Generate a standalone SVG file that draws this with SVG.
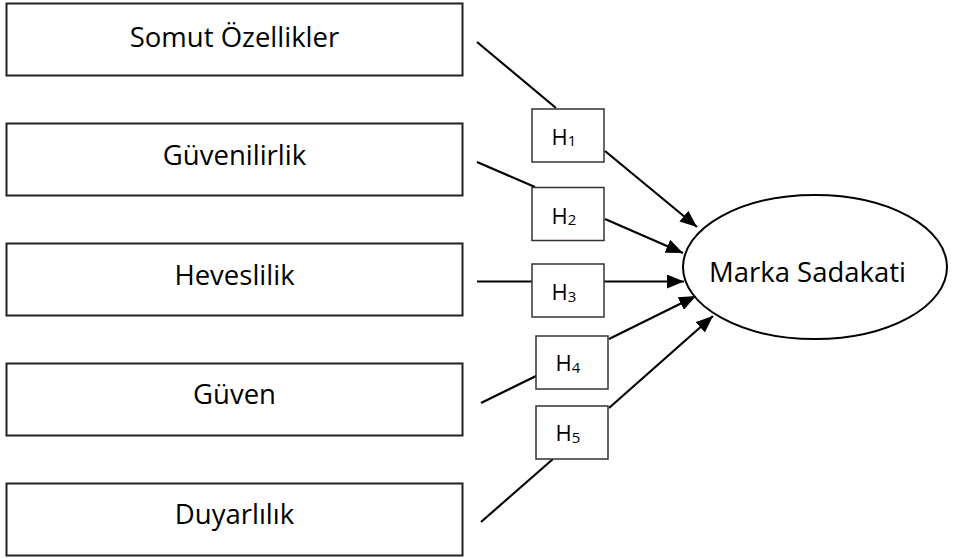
<svg xmlns="http://www.w3.org/2000/svg" width="955" height="558" viewBox="0 0 955 558">
<defs>
<style>
.box{fill:#fff;stroke:#222;stroke-width:2}
.hbox{fill:#fff;stroke:#333;stroke-width:1.5}
.lbl{font-family:"Open Sans","Liberation Sans",sans-serif;font-size:27.5px;fill:#000;text-anchor:middle}
.h{font-family:"Open Sans","Liberation Sans",sans-serif;font-size:22px;fill:#000}
.sub{font-size:15px}
.ln{stroke:#000;stroke-width:2.2;fill:none}
.arr{stroke:#000;stroke-width:2.2;fill:none;marker-end:url(#ah)}
</style>
<marker id="ah" markerUnits="userSpaceOnUse" markerWidth="17" markerHeight="14" refX="17" refY="7" orient="auto">
<path d="M0,0 L17,7 L0,14 z" fill="#000"/>
</marker>
</defs>
<rect width="955" height="558" fill="#fff"/>
<g id="connectors">
<line class="ln" x1="477" y1="42" x2="556" y2="108"/>
<line class="arr" x1="605" y1="151" x2="697" y2="227"/>
<line class="ln" x1="477" y1="162" x2="535" y2="187"/>
<line class="arr" x1="605" y1="219" x2="683" y2="253"/>
<line class="ln" x1="477" y1="281.5" x2="532" y2="281.5"/>
<line class="arr" x1="604" y1="281.5" x2="684" y2="281.5"/>
<line class="ln" x1="481" y1="403" x2="536" y2="376"/>
<line class="arr" x1="609" y1="339" x2="696" y2="296"/>
<line class="ln" x1="481" y1="522" x2="553" y2="459"/>
<line class="arr" x1="609" y1="408" x2="713" y2="316"/>
</g>
<g id="somut">
<rect class="box" x="6.5" y="3.5" width="456" height="72"/>
<text class="lbl" x="234.5" y="47">Somut Özellikler</text>
</g>
<g id="guvenilirlik">
<rect class="box" x="6.5" y="123.5" width="456" height="72"/>
<text class="lbl" x="234.5" y="165">Güvenilirlik</text>
</g>
<g id="heveslilik">
<rect class="box" x="6.5" y="243.5" width="456" height="72"/>
<text class="lbl" x="234.5" y="285">Heveslilik</text>
</g>
<g id="guven">
<rect class="box" x="6.5" y="363.5" width="456" height="72"/>
<text class="lbl" x="234.5" y="404">Güven</text>
</g>
<g id="duyarlilik">
<rect class="box" x="6.5" y="483.5" width="456" height="72"/>
<text class="lbl" x="234.5" y="524">Duyarlılık</text>
</g>
<g id="marka">
<ellipse cx="815" cy="267" rx="132" ry="72" fill="#fff" stroke="#000" stroke-width="2"/>
<text class="lbl" x="807.5" y="282">Marka Sadakati</text>
</g>
<g id="h1">
<rect class="hbox" x="532" y="109" width="72" height="53"/>
<text class="h" x="551.5" y="144.5">H<tspan class="sub" dy="1.5">1</tspan></text>
</g>
<g id="h2">
<rect class="hbox" x="532" y="187.5" width="72" height="53"/>
<text class="h" x="551.5" y="223.5">H<tspan class="sub" dy="1.5">2</tspan></text>
</g>
<g id="h3">
<rect class="hbox" x="532" y="264" width="72" height="53"/>
<text class="h" x="551.5" y="300">H<tspan class="sub" dy="1.5">3</tspan></text>
</g>
<g id="h4">
<rect class="hbox" x="536" y="336" width="72" height="53"/>
<text class="h" x="555.5" y="371">H<tspan class="sub" dy="1.5">4</tspan></text>
</g>
<g id="h5">
<rect class="hbox" x="536" y="406" width="72" height="53"/>
<text class="h" x="555.5" y="441">H<tspan class="sub" dy="1.5">5</tspan></text>
</g>
</svg>
